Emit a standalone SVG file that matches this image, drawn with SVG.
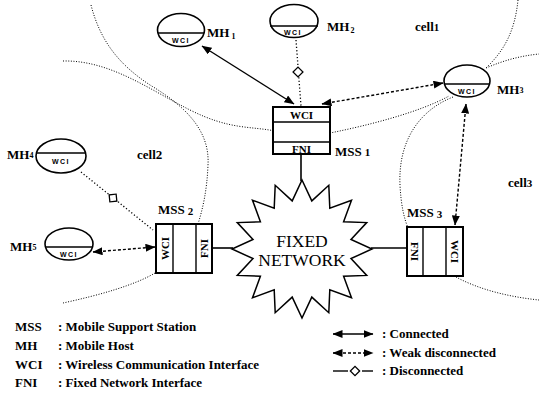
<svg xmlns="http://www.w3.org/2000/svg" width="539" height="395" viewBox="0 0 539 395">
  <defs>
    <marker id="arrow" viewBox="0 0 10 8" refX="9.5" refY="4" markerWidth="10" markerHeight="8" markerUnits="userSpaceOnUse" orient="auto-start-reverse">
      <path d="M0,0 L10,4 L0,8 Z" fill="#000"/>
    </marker>
    <style>
      text { font-family: "Liberation Serif", "Times New Roman", serif; fill: #000; }
      .lbl { font-size: 13px; font-weight: bold; }
      .leg { font-size: 13px; font-weight: bold; }
      .sec { font-size: 11px; font-weight: bold; }
      .wci { font-family: "Liberation Sans", Arial, sans-serif; font-size: 7px; font-weight: bold; }
      .cell { fill: none; stroke: #000; stroke-width: 1; stroke-dasharray: 1 1.6; }
      .host { fill: #fff; stroke: #000; stroke-width: 1.6; }
      .box { fill: #fff; stroke: #000; stroke-width: 2; }
      .div { stroke: #000; stroke-width: 1.4; }
      .conn { fill: none; stroke: #000; stroke-width: 1.4; }
      .weak { fill: none; stroke: #000; stroke-width: 1.4; stroke-dasharray: 3 2; }
      .disc { fill: none; stroke: #000; stroke-width: 1.3; stroke-dasharray: 1.2 2.2; }
      .dia { fill: #fff; stroke: #000; stroke-width: 1.3; }
      .wire { stroke: #000; stroke-width: 1.6; }
    </style>
  </defs>

  <!-- cell boundaries -->
  <g id="cells">
    <path class="cell" d="M91,5 C100,40 118,64 150,85 C185,106 210,130 208,165 C207,190 203,208 198,224"/>
    <path class="cell" d="M155,273 C135,285 100,295 63,303"/>
    <path class="cell" d="M63,61 C110,60 150,90 190,110 S250,126 275,131 L330,133 C370,125 420,112 449,96"/>
    <path class="cell" d="M486,68 C505,60 520,56 539,54"/>
    <path class="cell" d="M518,0 C515,30 505,50 486,68"/>
    <path class="cell" d="M453,97 C420,110 398,140 400,185 C401,205 404,218 408,228"/>
    <path class="cell" d="M456,277 C480,290 510,297 539,300"/>
  </g>

  <!-- links between hosts and stations, and station wiring -->
  <g id="connectors">
    <line class="wire" x1="301" y1="154" x2="301" y2="181"/>
    <line class="wire" x1="212" y1="248" x2="233" y2="248"/>
    <line class="wire" x1="371" y1="248" x2="407" y2="248"/>

    <line class="conn" x1="202" y1="46" x2="294" y2="104" marker-start="url(#arrow)" marker-end="url(#arrow)"/>
    <line class="disc" x1="296" y1="40" x2="301" y2="106"/>
    <rect class="dia" x="-3.5" y="-3.5" width="7" height="7" transform="translate(298,72) rotate(45)"/>
    <line class="weak" x1="322" y1="104" x2="443" y2="83" marker-start="url(#arrow)" marker-end="url(#arrow)"/>
    <line class="weak" x1="466" y1="104" x2="455" y2="225" marker-start="url(#arrow)" marker-end="url(#arrow)"/>
    <line class="disc" x1="81" y1="172" x2="153" y2="230"/>
    <rect class="dia" x="-3.5" y="-3.5" width="7" height="7" transform="translate(113,198) rotate(84)"/>
    <line class="weak" x1="93" y1="252" x2="155" y2="247" marker-start="url(#arrow)" marker-end="url(#arrow)"/>
  </g>

  <!-- fixed network -->
  <g id="fixed-network">
    <polygon fill="#fff" stroke="#000" stroke-width="1.5" stroke-linejoin="miter" points="302,180 311.8,200.9 328.8,185.3 329.8,208.3 351.5,200.2 343.6,221.8 366.7,222.6 351,239.4 372,249 351,258.6 366.7,275.4 343.6,276.2 351.5,297.8 329.8,289.7 328.8,312.7 311.8,297.1 302,318 292.2,297.1 275.2,312.7 274.2,289.7 252.5,297.8 260.4,276.2 237.3,275.4 253,258.6 232,249 253,239.4 237.3,222.6 260.4,221.8 252.5,200.2 274.2,208.3 275.2,185.3 292.2,200.9"/>
    <text x="302" y="247" text-anchor="middle" font-size="17.5">FIXED</text>
    <text x="302" y="266" text-anchor="middle" font-size="17.5">NETWORK</text>
  </g>

  <!-- mobile support stations -->
  <g id="mss1">
    <rect class="box" x="273" y="107" width="57" height="47"/>
    <line class="div" x1="273" y1="122" x2="330" y2="122"/>
    <line class="div" x1="273" y1="142" x2="330" y2="142"/>
    <text class="sec" x="301.5" y="119" text-anchor="middle">WCI</text>
    <text class="sec" x="301.5" y="153" text-anchor="middle">FNI</text>
    <text class="lbl" x="335" y="156">MSS<tspan font-size="11" dx="3">1</tspan></text>
  </g>

  <g id="mss2">
    <rect class="box" x="156" y="224" width="56" height="49"/>
    <line class="div" x1="173" y1="224" x2="173" y2="273"/>
    <line class="div" x1="196" y1="224" x2="196" y2="273"/>
    <text class="sec" transform="translate(168.5,248.5) rotate(-90)" text-anchor="middle">WCI</text>
    <text class="sec" transform="translate(208,248.5) rotate(-90)" text-anchor="middle">FNI</text>
    <text class="lbl" x="158" y="214">MSS<tspan font-size="11" dx="3" dy="1">2</tspan></text>
  </g>

  <g id="mss3">
    <rect class="box" x="407" y="227" width="56" height="49"/>
    <line class="div" x1="423" y1="227" x2="423" y2="276"/>
    <line class="div" x1="446" y1="227" x2="446" y2="276"/>
    <text class="sec" transform="translate(411,251.5) rotate(90)" text-anchor="middle">FNI</text>
    <text class="sec" transform="translate(450.5,251.5) rotate(90)" text-anchor="middle">WCI</text>
    <text class="lbl" x="407" y="217">MSS<tspan font-size="11" dx="3" dy="1">3</tspan></text>
  </g>

  <!-- mobile hosts -->
  <g id="mh1">
    <ellipse class="host" cx="181" cy="30" rx="23.5" ry="16.5"/>
    <line class="div" x1="158" y1="33" x2="204" y2="33"/>
    <text class="wci" x="181" y="43" text-anchor="middle" letter-spacing="1.5">WCI</text>
    <text class="lbl" x="207" y="37">MH<tspan font-size="8" dx="2" dy="2">1</tspan></text>
  </g>

  <g id="mh2">
    <ellipse class="host" cx="294" cy="21" rx="24" ry="16.5"/>
    <line class="div" x1="270" y1="26" x2="318" y2="26"/>
    <text class="wci" x="293" y="35" text-anchor="middle" letter-spacing="1.5">WCI</text>
    <text class="lbl" x="327" y="31">MH<tspan font-size="8" dx="1" dy="2">2</tspan></text>
  </g>

  <g id="mh3">
    <ellipse class="host" cx="467" cy="81" rx="23" ry="16"/>
    <line class="div" x1="444" y1="84" x2="490" y2="84"/>
    <text class="wci" x="467" y="93.5" text-anchor="middle" letter-spacing="1.5">WCI</text>
    <text class="lbl" x="497" y="94">MH<tspan font-size="8" dy="-1">3</tspan></text>
  </g>

  <g id="mh4">
    <ellipse class="host" cx="61" cy="156" rx="25" ry="17"/>
    <line class="div" x1="36" y1="153" x2="86" y2="153"/>
    <text class="wci" x="61" y="164" text-anchor="middle" letter-spacing="1.5">WCI</text>
    <text class="lbl" x="7" y="159">MH<tspan font-size="8" dy="-1">4</tspan></text>
  </g>

  <g id="mh5">
    <ellipse class="host" cx="69" cy="244" rx="24" ry="16"/>
    <line class="div" x1="45" y1="247" x2="93" y2="247"/>
    <text class="wci" x="69" y="256.5" text-anchor="middle" letter-spacing="1.5">WCI</text>
    <text class="lbl" x="10" y="251">MH<tspan font-size="8" dy="-1">5</tspan></text>
  </g>

  <!-- cell names -->
  <g id="cell-names">
    <text class="lbl" x="415" y="31">cell<tspan font-size="11">1</tspan></text>
    <text class="lbl" x="137" y="159">cell2</text>
    <text class="lbl" x="508" y="187">cell<tspan font-size="11">3</tspan></text>
  </g>

  <!-- legend -->
  <g id="legend">
    <text class="leg" x="15" y="331">MSS</text>
    <text class="leg" x="58" y="331">: Mobile Support Station</text>
    <text class="leg" x="15" y="350">MH</text>
    <text class="leg" x="58" y="350">: Mobile Host</text>
    <text class="leg" x="15" y="369">WCI</text>
    <text class="leg" x="58" y="369">: Wireless Communication Interface</text>
    <text class="leg" x="15" y="387">FNI</text>
    <text class="leg" x="58" y="387">: Fixed Network Interface</text>

    <line class="conn" x1="333" y1="334" x2="373" y2="334" marker-start="url(#arrow)" marker-end="url(#arrow)"/>
    <line class="weak" x1="333" y1="353" x2="373" y2="353" marker-start="url(#arrow)" marker-end="url(#arrow)"/>
    <line class="div" x1="333" y1="371" x2="348" y2="371"/>
    <rect class="dia" x="-3.3" y="-3.3" width="6.6" height="6.6" transform="translate(355,371) rotate(45)"/>
    <line class="div" x1="362" y1="371" x2="373" y2="371"/>
    <text class="leg" x="382" y="338">: Connected</text>
    <text class="leg" x="382" y="357">: Weak disconnected</text>
    <text class="leg" x="382" y="375">: Disconnected</text>
  </g>
</svg>
